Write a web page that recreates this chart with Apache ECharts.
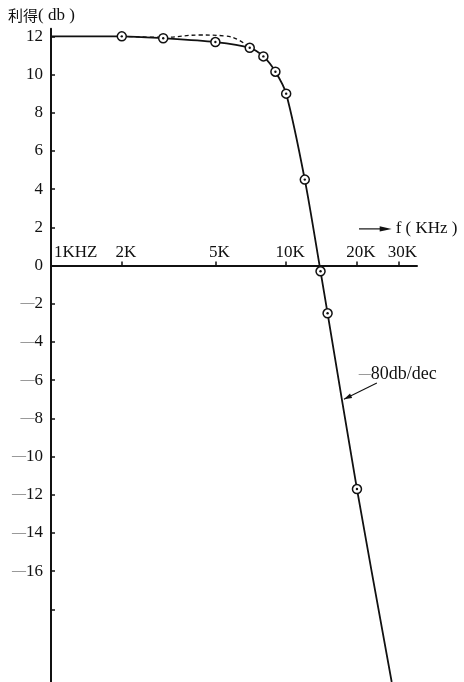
<!DOCTYPE html>
<html>
<head>
<meta charset="utf-8">
<script src="https://cdn.jsdelivr.net/npm/echarts@6/dist/echarts.min.js"></script>
<style>
  html, body { margin: 0; padding: 0; background: #fff; }
  #chart { width: 464px; height: 682px; }
</style>
</head>
<body>
<div id="chart"></div>
<script>
// Measured points (frequency in kHz, gain in dB)
const measuredFreq = [2, 3, 5, 7, 8, 9, 10, 12, 14, 15, 20];
const measuredGain = [12.0, 11.9, 11.7, 11.4, 10.95, 10.15, 9.0, 4.5, -0.3, -2.5, -11.7];

// Fitted response curve (solid)
const curveFreq = [1, 1.5, 2, 3, 5, 7, 8, 9, 10, 12, 14, 15, 20, 28.1];
const curveGain = [12.0, 12.0, 12.0, 11.9, 11.7, 11.4, 10.95, 10.15, 9.0, 4.5, -0.3, -2.5, -11.7, -21.8];

// Ideal response near the corner (dashed)
const idealFreq = [2, 3, 4.3, 5.5, 6.3, 7];
const idealGain = [12.0, 11.95, 12.07, 12.02, 11.8, 11.4];

// Axis ticks and labels
const freqTicks = [2, 5, 10, 20, 30];
const freqLabelValues = [1, 2, 5, 10, 20, 30];
const freqLabels = ['1KHZ', '2K', '5K', '10K', '20K', '30K'];
const gainTicks = [-18, -16, -14, -12, -10, -8, -6, -4, -2, 0, 2, 4, 6, 8, 10, 12];
const gainLabelValues = [-16, -14, -12, -10, -8, -6, -4, -2, 0, 2, 4, 6, 8, 10, 12];

const SERIF = '"Liberation Serif", "DejaVu Serif", serif';
const INK = '#111';
const lg = Math.log10;

const pairs = (fs, gs) => fs.map((f, i) => [lg(f), gs[i]]);

const chart = echarts.init(document.getElementById('chart'), null, { renderer: 'canvas' });

chart.setOption({
  animation: false,
  backgroundColor: '#fff',
  grid: { left: 51, right: 47, top: 28.7, bottom: 0, containLabel: false },
  xAxis: {
    type: 'value',
    min: 0,
    max: lg(36),
    axisLine: { show: true, onZero: true, lineStyle: { color: INK, width: 2 } },
    axisTick: {
      show: true, inside: true, length: 4,
      customValues: freqTicks.map(lg),
      lineStyle: { color: INK, width: 1.5 }
    },
    axisLabel: { show: false },
    splitLine: { show: false }
  },
  yAxis: {
    type: 'value',
    min: -21.8,
    max: 12.4,
    axisLine: { show: true, onZero: true, lineStyle: { color: INK, width: 2 } },
    axisTick: {
      show: true, inside: true, length: 4,
      customValues: gainTicks,
      lineStyle: { color: INK, width: 1.5 }
    },
    axisLabel: {
      show: true, margin: 8,
      customValues: gainLabelValues,
      formatter: v => v < 0 ? '{d|—}{n|' + (-v) + '}' : '{n|' + v + '}',
      rich: {
        d: { fontFamily: SERIF, fontSize: 14, color: '#777' },
        n: { fontFamily: SERIF, fontSize: 17, color: INK }
      }
    },
    splitLine: { show: false }
  },
  series: [
    {
      name: 'ideal',
      type: 'line',
      data: pairs(idealFreq, idealGain),
      smooth: 0.4,
      showSymbol: false,
      lineStyle: { color: INK, width: 1.3, type: [4, 3] },
      z: 2
    },
    {
      name: 'response',
      type: 'line',
      data: pairs(curveFreq, curveGain),
      smooth: 0.3,
      showSymbol: false,
      lineStyle: { color: INK, width: 1.8 },
      z: 3
    },
    {
      name: 'measured',
      type: 'scatter',
      data: pairs(measuredFreq, measuredGain),
      symbol: 'circle',
      symbolSize: 9,
      itemStyle: { color: '#fff', borderColor: INK, borderWidth: 1.5, opacity: 1 },
      z: 4
    },
    {
      name: 'measured-dot',
      type: 'scatter',
      data: pairs(measuredFreq, measuredGain),
      symbol: 'circle',
      symbolSize: 2.4,
      itemStyle: { color: INK, opacity: 1 },
      z: 5
    },
    {
      // frequency labels sitting just above the 0 dB axis
      name: 'freq-labels',
      type: 'scatter',
      symbolSize: 0,
      silent: true,
      itemStyle: { opacity: 1 },
      data: freqLabelValues.map((f, i) => ({
        value: [lg(f), 0],
        label: i === 0 ? { align: 'left', offset: [3, 0] } : { offset: [4, 0] }
      })),
      label: {
        show: true,
        position: 'top',
        distance: 5,
        fontFamily: SERIF,
        fontSize: 17,
        color: INK,
        opacity: 1,
        formatter: p => freqLabels[p.dataIndex]
      },
      z: 6
    }
  ]
});

// Annotations anchored to data coordinates
const px = (f, g) => chart.convertToPixel({ gridIndex: 0 }, [lg(f), g]);

const fA = px(20.4, 1.92), fB = px(28.1, 1.92);
const slopeFrom = px(24.3, -6.15), slopeTo = px(17.6, -7.0);
const ang = Math.atan2(slopeTo[1] - slopeFrom[1], slopeTo[0] - slopeFrom[0]);
const head = (tip, a, len, half) => [
  tip,
  [tip[0] - len * Math.cos(a) + half * Math.sin(a), tip[1] - len * Math.sin(a) - half * Math.cos(a)],
  [tip[0] - len * Math.cos(a) - half * Math.sin(a), tip[1] - len * Math.sin(a) + half * Math.cos(a)]
];

chart.setOption({
  graphic: [
    {
      type: 'text', left: 8, top: 7,
      style: {
        text: '{c|利得}{s|( db )}',
        rich: {
          c: { fontFamily: '"Noto Sans CJK JP", "Noto Sans CJK SC", sans-serif', fontSize: 15, fill: INK },
          s: { fontFamily: SERIF, fontSize: 17, fill: INK }
        }
      }
    },
    {
      type: 'line',
      shape: { x1: fA[0], y1: fA[1], x2: fB[0] - 6, y2: fB[1] },
      style: { stroke: INK, lineWidth: 1.2 }
    },
    {
      type: 'polygon',
      shape: { points: head(fB, 0, 12, 2.6) },
      style: { fill: INK }
    },
    {
      type: 'text', x: fB[0] + 4, y: fB[1],
      style: {
        text: 'f ( KHz )', fontFamily: SERIF, fontSize: 17, fill: INK,
        verticalAlign: 'middle', align: 'left'
      }
    },
    {
      type: 'line',
      shape: { x1: slopeFrom[0], y1: slopeFrom[1], x2: slopeTo[0], y2: slopeTo[1] },
      style: { stroke: INK, lineWidth: 1.1 }
    },
    {
      type: 'polygon',
      shape: { points: head(slopeTo, ang, 8, 2.4) },
      style: { fill: INK }
    },
    {
      type: 'text', x: slopeFrom[0] - 18, y: slopeFrom[1] - 9,
      style: {
        text: '{d|—}{t|80db/dec}',
        verticalAlign: 'middle', align: 'left',
        rich: {
          d: { fontFamily: SERIF, fontSize: 12, fill: '#666' },
          t: { fontFamily: SERIF, fontSize: 18, fill: INK }
        }
      }
    }
  ]
});
</script>
</body>
</html>
